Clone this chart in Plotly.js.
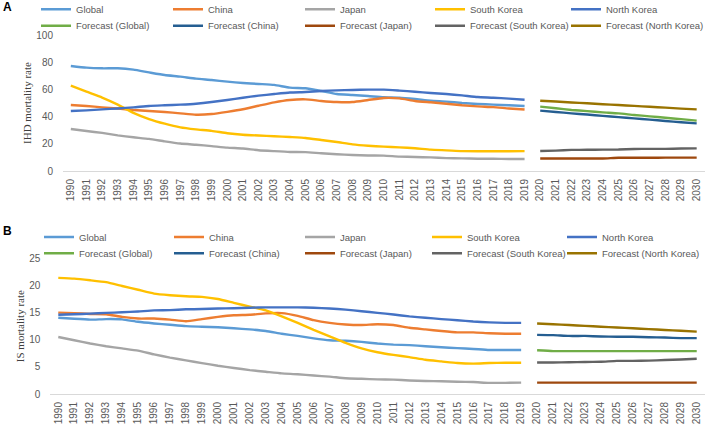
<!DOCTYPE html>
<html><head><meta charset="utf-8">
<script src="https://cdn.plot.ly/plotly-3.0.1.min.js"></script>
<style>html,body{margin:0;padding:0;background:#fff}#chart{width:708px;height:424px}</style>
</head><body><div id="chart"></div><script>
const yearsHist = ['1990','1991','1992','1993','1994','1995','1996','1997','1998','1999','2000','2001','2002','2003','2004','2005','2006','2007','2008','2009','2010','2011','2012','2013','2014','2015','2016','2017','2018','2019'];
const yearsFc = ['2020','2021','2022','2023','2024','2025','2026','2027','2028','2029','2030'];
const allYears = yearsHist.concat(yearsFc);

const seriesNames = ['Global','China','Japan','South Korea','North Korea'];
const forecastNames = ['Forecast (Global)','Forecast (China)','Forecast (Japan)','Forecast (South Korea)','Forecast (North Korea)'];

// Panel A: IHD mortality rate
const ihdGlobal = [77.2,76.0,75.5,75.5,74.5,72.5,70.6,69.4,67.9,66.9,65.7,64.7,64.0,63.3,61.3,60.8,58.8,56.6,55.9,55.1,54.2,53.9,52.9,51.7,51.0,50.0,49.3,48.8,48.3,47.8];
const ihdChina = [48.5,47.8,46.8,46.0,44.9,44.1,43.4,42.4,41.4,41.9,43.5,45.4,48.0,50.5,52.2,52.7,51.5,50.7,50.7,52.2,53.7,53.4,51.5,50.5,49.5,48.3,47.5,47.0,46.0,45.2];
const ihdJapan = [30.9,29.4,28.0,26.2,24.8,23.6,21.8,20.2,19.3,18.3,17.2,16.5,15.3,14.6,14.0,13.9,13.0,12.3,11.8,11.4,11.3,10.6,10.3,10.0,9.5,9.3,9.0,9.0,8.8,8.8];
const ihdSouthKorea = [62.7,58.3,54.0,48.8,42.8,38.2,34.8,32.1,30.6,29.5,27.8,26.7,26.1,25.6,25.0,24.3,22.8,21.3,19.6,18.6,17.9,17.4,16.7,15.7,15.2,14.6,14.5,14.5,14.5,14.6];
const ihdNorthKorea = [44.1,44.6,45.3,46.0,46.8,47.8,48.3,48.8,49.5,50.7,52.2,53.9,55.4,56.6,57.7,58.1,58.8,59.3,59.6,59.8,59.8,59.1,58.3,57.4,56.6,55.6,54.4,53.9,53.2,52.4];
const ihdFcGlobal = [47.3,46.1,44.9,44.0,43.1,42.4,41.2,40.2,39.2,38.1,37.0];
const ihdFcChina = [44.4,43.4,42.4,41.5,40.5,39.6,38.7,37.8,36.8,35.9,35.0];
const ihdFcJapan = [9.2,9.2,9.2,9.2,9.2,9.7,9.7,9.7,9.8,9.8,9.8];
const ihdFcSouthKorea = [14.7,15.0,15.5,15.6,15.7,15.8,16.2,16.3,16.3,16.5,16.6];
const ihdFcNorthKorea = [51.7,51.1,50.4,49.8,49.1,48.5,47.9,47.2,46.6,45.9,45.3];

// Panel B: IS mortality rate
const isGlobal = [14.05,13.85,13.7,13.8,13.75,13.3,13.0,12.75,12.5,12.4,12.3,12.1,11.9,11.6,11.1,10.7,10.25,9.9,9.8,9.6,9.3,9.1,9.0,8.8,8.6,8.45,8.3,8.1,8.1,8.1];
const isChina = [15.0,14.9,14.75,14.7,14.2,13.9,13.9,13.7,13.4,13.8,14.2,14.5,14.6,14.85,14.9,14.4,13.6,13.1,12.8,12.7,12.85,12.7,12.2,11.9,11.6,11.35,11.35,11.2,11.1,11.1];
const isJapan = [10.5,9.9,9.3,8.8,8.4,8.0,7.3,6.7,6.2,5.7,5.2,4.8,4.4,4.1,3.8,3.65,3.4,3.2,2.9,2.8,2.7,2.65,2.5,2.4,2.35,2.25,2.2,2.05,2.05,2.1];
const isSouthKorea = [21.4,21.25,20.95,20.6,19.9,19.2,18.5,18.2,18.0,17.9,17.5,16.8,16.1,15.4,14.3,13.1,11.8,10.6,9.4,8.4,7.7,7.2,6.8,6.3,6.0,5.7,5.6,5.7,5.75,5.75];
const isNorthKorea = [14.6,14.7,14.8,14.95,15.05,15.2,15.4,15.45,15.6,15.65,15.75,15.8,15.9,15.95,15.95,15.95,15.9,15.75,15.55,15.25,14.95,14.65,14.3,14.05,13.8,13.6,13.35,13.2,13.1,13.1];
const isFcGlobal = [8.05,7.9,7.9,7.9,7.9,7.9,7.9,7.9,7.9,7.9,7.9];
const isFcChina = [10.9,10.85,10.7,10.7,10.6,10.55,10.55,10.45,10.4,10.3,10.3];
const isFcJapan = [2.1,2.1,2.1,2.1,2.1,2.1,2.1,2.1,2.1,2.1,2.1];
const isFcSouthKorea = [5.8,5.8,5.85,5.9,5.95,6.1,6.1,6.15,6.25,6.35,6.5];
const isFcNorthKorea = [13.0,12.85,12.7,12.55,12.4,12.25,12.1,11.95,11.8,11.65,11.5];

const histColors = ['#5B9BD5','#ED7D31','#A5A5A5','#FFC000','#4472C4'];
const fcColors = ['#70AD47','#255E91','#9E480E','#636363','#997300'];

const ihdHist = [ihdGlobal, ihdChina, ihdJapan, ihdSouthKorea, ihdNorthKorea];
const ihdFc = [ihdFcGlobal, ihdFcChina, ihdFcJapan, ihdFcSouthKorea, ihdFcNorthKorea];
const isHist = [isGlobal, isChina, isJapan, isSouthKorea, isNorthKorea];
const isFc = [isFcGlobal, isFcChina, isFcJapan, isFcSouthKorea, isFcNorthKorea];

const W = 708, H = 424;
const px = v => v / W;
const py = v => 1 - v / H;

const legFont = {family: 'Liberation Sans, Arial, sans-serif', size: 9.5, color: '#595959'};
const layoutLegends = {};
let legCount = 0;
function makeLegend(xPix, yCenterPix) {
  legCount += 1;
  const id = legCount === 1 ? 'legend' : 'legend' + legCount;
  layoutLegends[id] = {
    orientation: 'v', x: px(xPix), xanchor: 'left', y: py(yCenterPix - 12.5), yanchor: 'top',
    font: legFont, bgcolor: 'rgba(0,0,0,0)', borderwidth: 0
  };
  return id;
}

// legend grid positions (px): columns and rows per panel
const colXA = [36, 168, 300, 430, 566], rowYA = [7.3, 23.7];
const colXB = [39, 169, 300, 427, 562], rowYB = [235, 251.3];

function build(hist, fc, xa, ya, colX, rowY) {
  const out = [];
  hist.forEach((vals, i) => out.push({
    type: 'scatter', mode: 'lines', x: yearsHist, y: vals, name: seriesNames[i],
    xaxis: xa, yaxis: ya, legend: makeLegend(colX[i], rowY[0]),
    line: {color: histColors[i], width: 2.4, shape: 'spline', smoothing: 0.5},
    hoverinfo: 'x+y+name'
  }));
  fc.forEach((vals, i) => out.push({
    type: 'scatter', mode: 'lines', x: yearsFc, y: vals, name: forecastNames[i],
    xaxis: xa, yaxis: ya, legend: makeLegend(colX[i], rowY[1]),
    line: {color: fcColors[i], width: 2.4, shape: 'spline', smoothing: 0.5},
    hoverinfo: 'x+y+name'
  }));
  return out;
}

const data = build(ihdHist, ihdFc, 'x', 'y', colXA, rowYA)
  .concat(build(isHist, isFc, 'x2', 'y2', colXB, rowYB));

const tickFont = {family: 'Liberation Sans, Arial, sans-serif', size: 10, color: '#595959'};
const titleFont = {family: 'Liberation Serif, Times New Roman, serif', size: 11, color: '#404040'};

const xBase = {
  type: 'category', categoryorder: 'array', categoryarray: allYears,
  range: [-0.5, allYears.length - 0.5], tickangle: -90, tickfont: tickFont,
  showline: true, linecolor: '#d9d9d9', linewidth: 1, showgrid: false, zeroline: false,
  ticks: '', ticklabelstandoff: 3, fixedrange: true
};
const yBase = {
  showgrid: false, zeroline: false, showline: false, tickfont: tickFont,
  ticks: '', ticklabelstandoff: 9, fixedrange: true
};

const layout = Object.assign({
  width: W, height: H,
  margin: {l: 0, r: 0, t: 0, b: 0, autoexpand: false},
  paper_bgcolor: '#ffffff', plot_bgcolor: '#ffffff',
  showlegend: true,
  xaxis: Object.assign({}, xBase, {domain: [px(63), px(704.5)], anchor: 'y'}),
  yaxis: Object.assign({}, yBase, {domain: [py(171), py(35)], anchor: 'x', range: [0, 100], dtick: 20,
    title: {text: 'IHD mortality rate', font: titleFont, standoff: 2}}),
  xaxis2: Object.assign({}, xBase, {domain: [px(50.3), px(704.7)], anchor: 'y2'}),
  yaxis2: Object.assign({}, yBase, {domain: [py(394), py(258.3)], anchor: 'x2', range: [0, 25], dtick: 5,
    title: {text: 'IS mortality rate', font: titleFont, standoff: 2}}),
  annotations: [
    {text: '<b>A</b>', xref: 'paper', yref: 'paper', x: px(1), y: py(-2), xanchor: 'left', yanchor: 'top',
     showarrow: false, font: {family: 'Liberation Sans, Arial, sans-serif', size: 12, color: '#000'}},
    {text: '<b>B</b>', xref: 'paper', yref: 'paper', x: px(1), y: py(221.5), xanchor: 'left', yanchor: 'top',
     showarrow: false, font: {family: 'Liberation Sans, Arial, sans-serif', size: 12, color: '#000'}}
  ]
}, layoutLegends);

Plotly.newPlot('chart', data, layout, {displayModeBar: false});
</script></body></html>
